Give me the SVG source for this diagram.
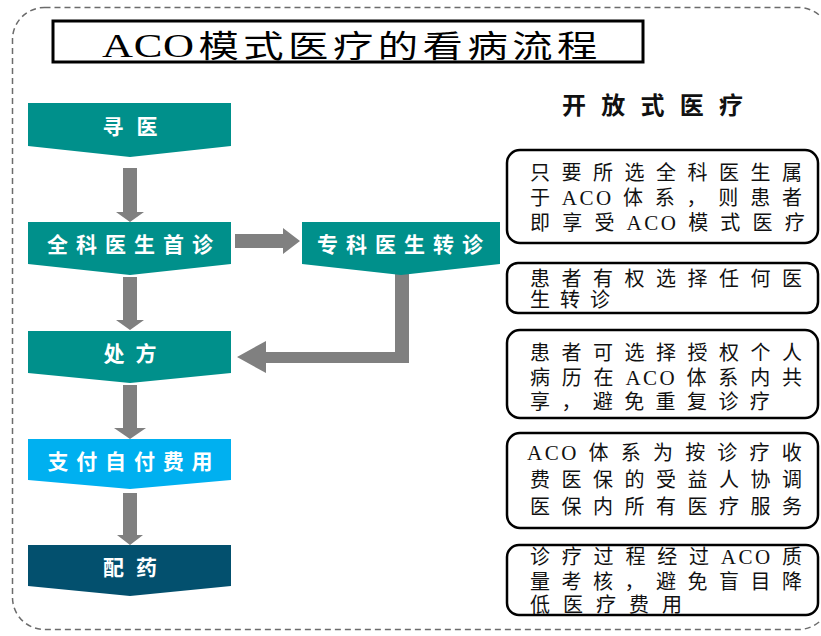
<svg xmlns="http://www.w3.org/2000/svg" width="821" height="636" viewBox="0 0 821 636">
<style>
.frame{fill:none;stroke:#6b6b6b;stroke-width:1.5;stroke-dasharray:6 4}
.chev-text{font-family:"Noto Sans CJK SC","Noto Sans",sans-serif;font-weight:700;font-size:21px;fill:#ffffff;text-anchor:middle}
.note{fill:#ffffff;stroke:#000000;stroke-width:2.5}
.note-text{font-family:"Liberation Serif","Noto Sans CJK SC",serif;font-size:20px;fill:#111111}
.aco{font-size:21px}
.conn{fill:#808080}
.teal{fill:#00908B}
</style>
<rect x="12.5" y="7.5" width="818" height="622" rx="32" ry="32" class="frame"/>
<g id="title">
<rect x="53" y="21" width="590" height="41" fill="#ffffff" stroke="#000000" stroke-width="3"/>
<text transform="translate(102,57) scale(1.3,1)" x="0" y="0" font-family="Liberation Serif, Noto Sans CJK SC, serif" font-size="31" fill="#000000" letter-spacing="3.5"><tspan font-size="33" letter-spacing="0.5">AC</tspan><tspan font-size="33">O</tspan>模式医疗的看病流程</text>
</g>
<g id="subtitle">
<text x="562" y="114" font-family="Noto Sans CJK SC, sans-serif" font-weight="700" font-size="24" fill="#111111" textLength="181" lengthAdjust="spacing">开放式医疗</text>
</g>
<g id="connectors">
<polygon class="conn" points="123,168 137,168 137,212 144,212 130,222 116,212 123,212"/>
<polygon class="conn" points="123,277 137,277 137,320 144,320 130,330 116,320 123,320"/>
<polygon class="conn" points="123,385 137,385 137,428 146,428 130,439 114,428 123,428"/>
<polygon class="conn" points="123,493 137,493 137,535 143,535 130,545 117,535 123,535"/>
<polygon class="conn" points="235,234 283,234 283,228 300,241 283,254 283,248 235,248"/>
<polygon class="conn" points="395,272 409,272 409,363 266,363 266,373 237,357 266,341 266,352 395,352"/>
</g>
<g id="node-xunyi">
<polygon class="teal" points="28,103 231,103 231,146 130,157 28,146"/>
<text class="chev-text" x="130" y="134" textLength="55" lengthAdjust="spacing">寻医</text>
</g>
<g id="node-quanke">
<polygon class="teal" points="28,222 231,222 231,264 130,275 28,264"/>
<text class="chev-text" x="130" y="252" textLength="166" lengthAdjust="spacing">全科医生首诊</text>
</g>
<g id="node-zhuanke">
<polygon class="teal" points="302,222 500,222 500,264 401,275 302,264"/>
<text class="chev-text" x="400" y="252" textLength="166" lengthAdjust="spacing">专科医生转诊</text>
</g>
<g id="node-chufang">
<polygon class="teal" points="28,331 231,331 231,373 130,383 28,373"/>
<text class="chev-text" x="130" y="361" textLength="53" lengthAdjust="spacing">处方</text>
</g>
<g id="node-zhifu">
<polygon fill="#00B0F0" points="28,439 231,439 231,480 130,489 28,480"/>
<text class="chev-text" x="130" y="469" textLength="165" lengthAdjust="spacing">支付自付费用</text>
</g>
<g id="node-peiyao">
<polygon fill="#03506E" points="28,545 231,545 231,586 130,596 28,586"/>
<text class="chev-text" x="130" y="575" textLength="54" lengthAdjust="spacing">配药</text>
</g>
<g id="note-1">
<rect class="note" x="507" y="150" width="311" height="93" rx="13"/>
<text class="note-text" x="530" y="180" textLength="272" lengthAdjust="spacing">只要所选全科医生属</text>
<text class="note-text" x="530" y="205" letter-spacing="11.8">于<tspan class="aco"><tspan letter-spacing="2.5">AC</tspan>O</tspan>体系，则患者</text>
<text class="note-text" x="530" y="230" letter-spacing="12.2">即享受<tspan class="aco"><tspan letter-spacing="2.5">AC</tspan>O</tspan>模式医疗</text>
</g>
<g id="note-2">
<rect class="note" x="507" y="263" width="311" height="50" rx="11"/>
<text class="note-text" x="530" y="286" textLength="272" lengthAdjust="spacing">患者有权选择任何医</text>
<text class="note-text" x="530" y="307" letter-spacing="10">生转诊</text>
</g>
<g id="note-3">
<rect class="note" x="507" y="330" width="311" height="88" rx="13"/>
<text class="note-text" x="530" y="360" textLength="272" lengthAdjust="spacing">患者可选择授权个人</text>
<text class="note-text" x="530" y="385" letter-spacing="11.8">病历在<tspan class="aco"><tspan letter-spacing="2.5">AC</tspan>O</tspan>体系内共</text>
<text class="note-text" x="530" y="409" letter-spacing="11.4">享，避免重复诊疗</text>
</g>
<g id="note-4">
<rect class="note" x="507" y="433" width="311" height="95" rx="13"/>
<text class="note-text" x="527" y="460" letter-spacing="12.2"><tspan class="aco"><tspan letter-spacing="2.5">AC</tspan>O</tspan>体系为按诊疗收</text>
<text class="note-text" x="530" y="487" textLength="272" lengthAdjust="spacing">费医保的受益人协调</text>
<text class="note-text" x="530" y="514" textLength="272" lengthAdjust="spacing">医保内所有医疗服务</text>
</g>
<g id="note-5">
<rect class="note" x="507" y="545" width="311" height="70" rx="12"/>
<text class="note-text" x="530" y="564" letter-spacing="11.8">诊疗过程经过<tspan class="aco"><tspan letter-spacing="2.5">AC</tspan>O</tspan>质</text>
<text class="note-text" x="530" y="589" textLength="272" lengthAdjust="spacing">量考核，避免盲目降</text>
<text class="note-text" x="530" y="612" letter-spacing="13">低医疗费用</text>
</g>
</svg>
